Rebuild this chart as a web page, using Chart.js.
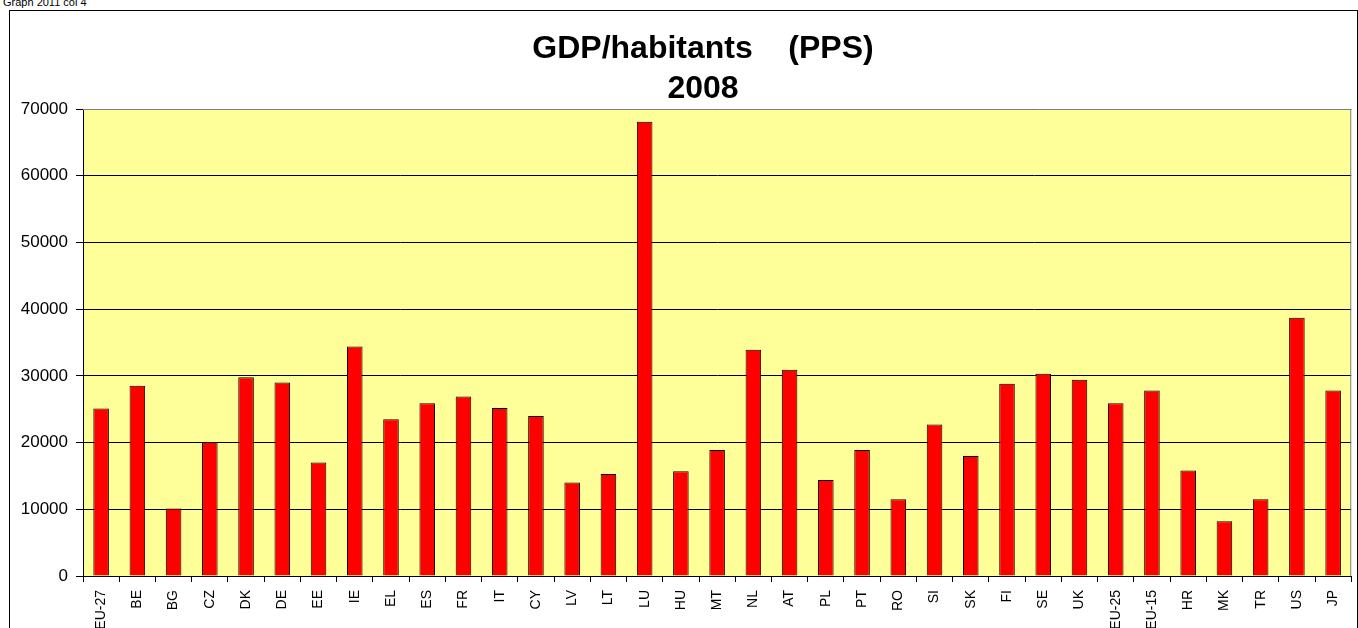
<!DOCTYPE html>
<html>
<head>
<meta charset="utf-8">
<script src="https://cdn.jsdelivr.net/npm/chart.js@4/dist/chart.umd.min.js"></script>
<style>
  html, body { margin: 0; padding: 0; background: #fff; overflow: hidden; }
  #wrap { position: relative; width: 1358px; height: 628px; overflow: hidden; }
  #frame { position: absolute; left: 9px; top: 10px; width: 1347px; height: 640px; border: 1px solid #000; }
  #note { position: absolute; left: 3px; top: -4px; font: 11px Arial, "Liberation Sans", sans-serif; color: #000; }
  #gdpChart { position: absolute; left: 0; top: 0; }
</style>
</head>
<body>
<div id="wrap">
  <div id="frame"></div>
  <div id="note">Graph 2011 col 4</div>
  <canvas id="gdpChart" width="1358" height="628"></canvas>
</div>
<script>
// data
const countries = ['EU-27', 'BE', 'BG', 'CZ', 'DK', 'DE', 'EE', 'IE', 'EL', 'ES', 'FR', 'IT', 'CY', 'LV', 'LT', 'LU', 'HU', 'MT', 'NL', 'AT', 'PL', 'PT', 'RO', 'SI', 'SK', 'FI', 'SE', 'UK', 'EU-25', 'EU-15', 'HR', 'MK', 'TR', 'US', 'JP']
const gdpPerHead = [25100, 28500, 10100, 20100, 29800, 29000, 17000, 34400, 23500, 25900, 26900, 25200, 24000, 14000, 15300, 68100, 15700, 18900, 33900, 30900, 14400, 18900, 11500, 22700, 18000, 28800, 30300, 29400, 25900, 27800, 15800, 8200, 11500, 38700, 27800]
const yTicks = [0, 10000, 20000, 30000, 40000, 50000, 60000, 70000]
const titleLines = ['GDP/habitants    (PPS)', '2008']

const font = 'Arial, "Liberation Sans", sans-serif'

// yellow plot area, grey border on top/right, title on top
const plotArea = {
    id: 'plotArea',
    beforeDraw(chart) {
        const a = chart.chartArea
        const ctx = chart.ctx
        ctx.save()
        ctx.fillStyle = '#FFFF99'
        ctx.fillRect(a.left, a.top, a.right - a.left, a.bottom - a.top)
        ctx.restore()
    },
    afterDraw(chart) {
        const a = chart.chartArea
        const ctx = chart.ctx
        ctx.save()
        ctx.strokeStyle = '#808080'
        ctx.lineWidth = 1
        ctx.beginPath()
        ctx.moveTo(a.left, a.top + 0.5)
        ctx.lineTo(a.right - 0.5, a.top + 0.5)
        ctx.lineTo(a.right - 0.5, a.bottom)
        ctx.stroke()
        // title
        ctx.fillStyle = '#000'
        ctx.font = 'bold 32px ' + font
        ctx.textAlign = 'center'
        ctx.textBaseline = 'middle'
        titleLines.forEach((t, i) => ctx.fillText(t, 703, 49 + i * 40))
        ctx.restore()
    }
}

const ctx = document.getElementById('gdpChart').getContext('2d')
const gdpChart = new Chart(ctx, {
    type: 'bar',
    data: {
        labels: countries,
        datasets: [{
            label: 'GDP/habitants (PPS)',
            data: gdpPerHead,
            backgroundColor: '#FF0000',
            borderColor: '#000000',
            borderWidth: 1,
            barPercentage: 0.43,
            categoryPercentage: 1
        }]
    },
    options: {
        responsive: false,
        animation: false,
        layout: { padding: { left: 0, right: 5, top: 109, bottom: 0 } },
        plugins: {
            legend: { display: false },
            tooltip: { enabled: false },
            title: { display: false }
        },
        scales: {
            x: {
                afterFit: s => { s.height = 52 },
                grid: {
                    offset: true,
                    drawOnChartArea: false,
                    tickLength: 6,
                    color: '#000'
                },
                border: { display: true, color: '#000' },
                ticks: {
                    autoSkip: false,
                    minRotation: 90,
                    maxRotation: 90,
                    padding: 8,
                    color: '#000',
                    font: { family: font, size: 14 }
                }
            },
            y: {
                min: 0,
                max: 70000,
                afterFit: s => { s.width = 83 },
                afterBuildTicks: s => { s.ticks = yTicks.map(v => ({ value: v })) },
                grid: {
                    color: '#000',
                    lineWidth: 1,
                    tickLength: 7,
                    tickColor: '#000'
                },
                border: { display: true, color: '#000' },
                ticks: {
                    padding: 8,
                    color: '#000',
                    font: { family: font, size: 17 },
                    callback: v => String(v)
                }
            }
        }
    },
    plugins: [plotArea]
})
</script>
</body>
</html>
